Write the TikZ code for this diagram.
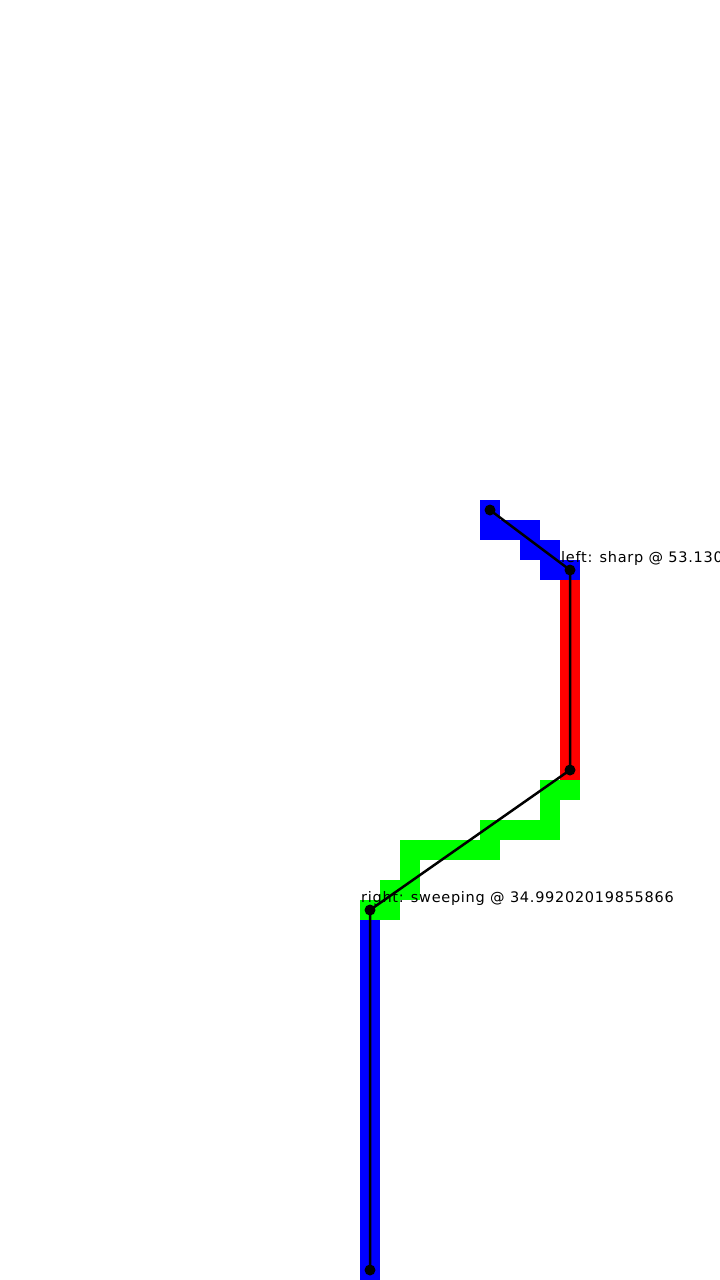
\documentclass[tikz,border=0pt]{standalone}
\usepackage{fontspec}
\newfontfamily\labelfont[LetterSpace=5]{DejaVu Sans}
\begin{document}
\begin{tikzpicture}[x=1pt,y=-1pt,
  cellblue/.style={fill={rgb,255:red,0;green,0;blue,255}},
  cellred/.style={fill={rgb,255:red,255;green,0;blue,0}},
  cellgreen/.style={fill={rgb,255:red,0;green,255;blue,0}},
  pt/.style={circle,fill=black,inner sep=0pt,minimum size=11pt},
  seg/.style={black,line width=2.5pt},
  lbl/.style={anchor=base west,inner sep=0pt,font=\labelfont\fontsize{14.5}{16}\selectfont}]
\useasboundingbox (0,0) rectangle (720,1280);
\begin{scope}
\clip (0,0) rectangle (720,1280);
% top blue cells
\path[cellblue] (480,500) rectangle (500,540);
\path[cellblue] (500,520) rectangle (540,540);
\path[cellblue] (520,540) rectangle (560,560);
\path[cellblue] (540,560) rectangle (580,580);
% red
\path[cellred] (560,580) rectangle (580,780);
% green
\path[cellgreen] (540,780) rectangle (580,800);
\path[cellgreen] (540,800) rectangle (560,820);
\path[cellgreen] (480,820) rectangle (560,840);
\path[cellgreen] (400,840) rectangle (500,860);
\path[cellgreen] (400,860) rectangle (420,880);
\path[cellgreen] (380,880) rectangle (420,900);
\path[cellgreen] (360,900) rectangle (400,920);
% bottom blue
\path[cellblue] (360,920) rectangle (380,1280);
% points
\node[pt] (p1) at (490,510) {};
\node[pt] (p2) at (570,570) {};
\node[pt] (p3) at (570,770) {};
\node[pt] (p4) at (370,910) {};
\node[pt] (p5) at (370,1270) {};
\draw[seg] (p1.center) -- (p2.center) -- (p3.center) -- (p4.center) -- (p5.center);
\node[lbl] (l1) at (561,562) {left: sharp @ 53.13010235415598};
\node[lbl] (l2) at (361,902) {right: sweeping @ 34.99202019855866};
\end{scope}
\end{tikzpicture}
\end{document}
